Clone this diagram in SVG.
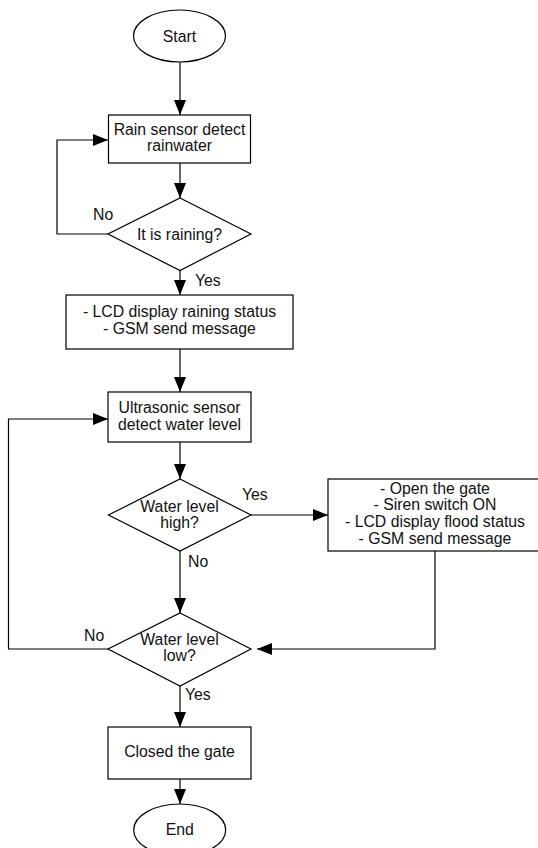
<svg xmlns="http://www.w3.org/2000/svg" width="538" height="848" viewBox="0 0 538 848">
<style>
.s{fill:#fff;stroke:#000;stroke-width:1.2}
.c{fill:none;stroke:#000;stroke-width:1.2}
text{font-family:"Liberation Sans",Arial,sans-serif;font-size:15.8px;fill:#111}
.m{text-anchor:middle}
</style>
<defs>
<marker id="a" markerUnits="userSpaceOnUse" markerWidth="16" markerHeight="13" refX="15" refY="6.5" orient="auto">
<path d="M0,0.5 L15,6.5 L0,12.5 z" fill="#000"/>
</marker>
</defs>
<rect width="538" height="848" fill="#fff"/>
<g id="connectors">
<path class="c" d="M180,62 V115" marker-end="url(#a)"/>
<path class="c" d="M180,163 V198" marker-end="url(#a)"/>
<path class="c" d="M108,234 H57 V140 H108" marker-end="url(#a)"/>
<path class="c" d="M180,270.5 V295" marker-end="url(#a)"/>
<path class="c" d="M180,349 V392" marker-end="url(#a)"/>
<path class="c" d="M180,442 V479" marker-end="url(#a)"/>
<path class="c" d="M251,515 H328" marker-end="url(#a)"/>
<path class="c" d="M435,551 V649 H257" marker-end="url(#a)"/>
<path class="c" d="M180,551 V613" marker-end="url(#a)"/>
<path class="c" d="M108,649 H8.5 V419 H108" marker-end="url(#a)"/>
<path class="c" d="M180,686 V727" marker-end="url(#a)"/>
<path class="c" d="M180,779 V804" marker-end="url(#a)"/>
<text x="93" y="220">No</text>
<text x="195" y="286">Yes</text>
<text x="242" y="500">Yes</text>
<text x="188" y="567">No</text>
<text x="84" y="641">No</text>
<text x="185" y="700">Yes</text>
</g>
<g id="start">
<ellipse class="s" cx="179.5" cy="36" rx="46" ry="26"/>
<text class="m" x="179.5" y="41.5">Start</text>
</g>
<g id="rain-sensor">
<rect class="s" x="108.5" y="115" width="142" height="48"/>
<text class="m" x="179.5" y="135">Rain sensor detect</text>
<text class="m" x="179.5" y="151">rainwater</text>
</g>
<g id="is-raining">
<polygon class="s" points="180,198 251,234 180,270.5 108,234"/>
<text class="m" x="179.5" y="239.5">It is raining?</text>
</g>
<g id="lcd-raining">
<rect class="s" x="66" y="295" width="227" height="54"/>
<text class="m" x="179.5" y="317">- LCD display raining status</text>
<text class="m" x="179.5" y="334">- GSM send message</text>
</g>
<g id="ultrasonic">
<rect class="s" x="108" y="392" width="143" height="50"/>
<text class="m" x="179.5" y="413">Ultrasonic sensor</text>
<text class="m" x="179.5" y="430">detect water level</text>
</g>
<g id="level-high">
<polygon class="s" points="180,479 251,515 180,551 108.5,515"/>
<text class="m" x="179.5" y="512">Water level</text>
<text class="m" x="179.5" y="528">high?</text>
</g>
<g id="flood-actions">
<rect class="s" x="328" y="479" width="214" height="72"/>
<text class="m" x="435" y="493.5">- Open the gate</text>
<text class="m" x="435" y="510">- Siren switch ON</text>
<text class="m" x="435" y="527">- LCD display flood status</text>
<text class="m" x="435" y="543.5">- GSM send message</text>
</g>
<g id="level-low">
<polygon class="s" points="180,613 251,649 180,686 108,649"/>
<text class="m" x="179.5" y="645">Water level</text>
<text class="m" x="179.5" y="661">low?</text>
</g>
<g id="close-gate">
<rect class="s" x="108" y="727" width="143" height="52"/>
<text class="m" x="179.5" y="757">Closed the gate</text>
</g>
<g id="end">
<ellipse class="s" cx="179.7" cy="830" rx="46" ry="26"/>
<text class="m" x="179.7" y="835">End</text>
</g>
</svg>
